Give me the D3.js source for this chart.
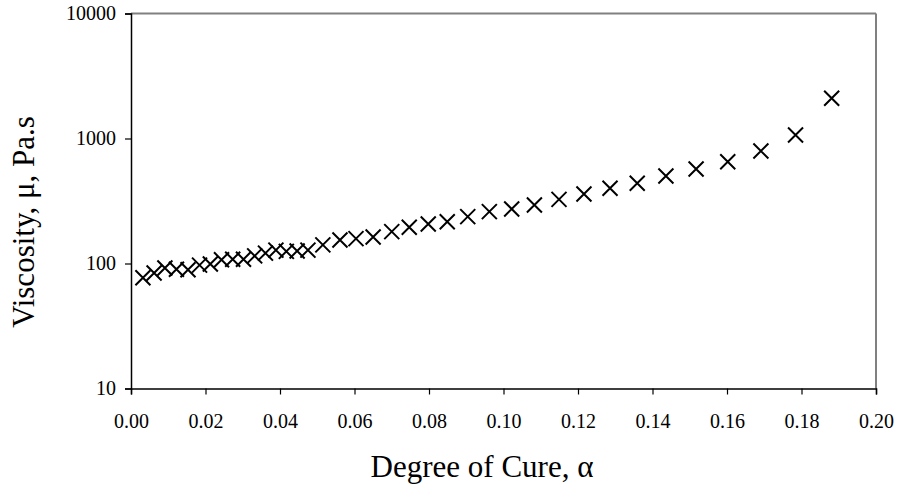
<!DOCTYPE html>
<html>
<head>
<meta charset="utf-8">
<script src="https://cdn.jsdelivr.net/npm/d3@7"></script>
<style>
  body { margin: 0; background: #fff; }
  svg { display: block; }
  text { font-family: "Liberation Serif", "Times New Roman", serif; fill: #000; }
</style>
</head>
<body>
<svg id="chart" width="899" height="486"></svg>
<script>
// degree of cure (alpha) and viscosity (Pa.s)
const cure = [0.0032, 0.0062, 0.0091, 0.0122, 0.0153, 0.0184, 0.0213, 0.0243, 0.0273, 0.0302,
  0.0332, 0.0361, 0.0389, 0.0417, 0.0446, 0.0475, 0.0515, 0.0561, 0.0604, 0.0650,
  0.0700, 0.0747, 0.0798, 0.0849, 0.0904, 0.0962, 0.1022, 0.1083, 0.1149, 0.1216,
  0.1286, 0.1359, 0.1436, 0.1517, 0.1602, 0.1691, 0.1784, 0.1881];
const viscosity = [77, 84, 92, 90, 89, 97, 99, 107, 108, 108,
  115, 121, 128, 125, 126, 128, 141, 154, 158, 163,
  180, 195, 207, 216, 237, 260, 273, 294, 326, 360,
  400, 438, 501, 570, 652, 794, 1066, 2097];

const xTicks = [0, 0.02, 0.04, 0.06, 0.08, 0.10, 0.12, 0.14, 0.16, 0.18, 0.20];
const yTicks = [10, 100, 1000, 10000];

const svg = d3.select('#chart');
const width = +svg.attr('width');
const height = +svg.attr('height');
const margin = { top: 13.5, right: 23, bottom: 97.5, left: 131 };
const w = width - margin.left - margin.right;
const h = height - margin.top - margin.bottom;

const g = svg.append('g').attr('transform', 'translate(' + margin.left + ',' + margin.top + ')');

const x = d3.scaleLinear().domain([0, 0.20]).range([0, w]);
const y = d3.scaleLog().domain([10, 10000]).range([h, 0]);

// grey frame on top and right
g.append('line').attr('x1', 0).attr('x2', w).attr('y1', 0).attr('y2', 0)
  .attr('stroke', '#808080').attr('stroke-width', 2);
g.append('line').attr('x1', w).attr('x2', w).attr('y1', 0).attr('y2', h)
  .attr('stroke', '#808080').attr('stroke-width', 2);

// axes
const xAxis = g.append('g')
  .attr('transform', 'translate(0,' + h + ')')
  .call(d3.axisBottom(x).tickValues(xTicks).tickFormat(d3.format('.2f')).tickSizeOuter(0).tickSize(6).tickPadding(19));
const yAxis = g.append('g')
  .call(d3.axisLeft(y).tickValues(yTicks).tickFormat(d3.format('d')).tickSizeOuter(0).tickSize(6).tickPadding(9));

[xAxis, yAxis].forEach(a => {
  a.select('.domain').attr('stroke', '#000').attr('stroke-width', 1.5);
  a.selectAll('.tick line').attr('stroke', '#000').attr('stroke-width', 1.2);
  a.selectAll('text').style('font-size', '20px').style('font-family', '"Liberation Serif", serif');
});

// cross markers
const s = 7.5;
const pts = cure.map((c, i) => [c, viscosity[i]]);
g.append('g').selectAll('path')
  .data(pts)
  .enter().append('path')
  .attr('transform', d => 'translate(' + x(d[0]) + ',' + y(d[1]) + ')')
  .attr('d', 'M' + (-s) + ',' + (-s) + 'L' + s + ',' + s + 'M' + (-s) + ',' + s + 'L' + s + ',' + (-s))
  .attr('stroke', '#000')
  .attr('stroke-width', 2)
  .attr('fill', 'none');

// axis titles
svg.append('text')
  .attr('x', 482)
  .attr('y', 477)
  .attr('text-anchor', 'middle')
  .style('font-size', '31px')
  .text('Degree of Cure, \u03b1');

svg.append('text')
  .attr('transform', 'translate(34,222) rotate(-90)')
  .attr('text-anchor', 'middle')
  .style('font-size', '31px')
  .text('Viscosity, \u03bc, Pa.s');
</script>
</body>
</html>
